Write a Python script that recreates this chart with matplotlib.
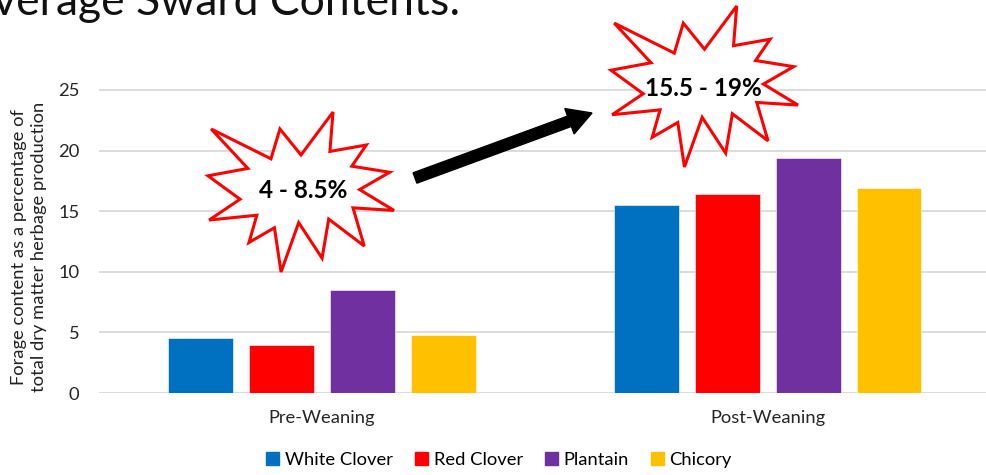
import numpy as np
import matplotlib.pyplot as plt
from matplotlib.patches import Polygon, FancyArrow, Patch
from matplotlib.transforms import Affine2D

plt.rcParams['font.family'] = ['Lato', 'DejaVu Sans']

groups = ['Pre-Weaning', 'Post-Weaning']
species = ['White Clover', 'Red Clover', 'Plantain', 'Chicory']
colors = ['#0070C0', '#FF0000', '#7030A0', '#FFC000']
values = {
    'White Clover': [4.5, 15.5],
    'Red Clover': [4.0, 16.4],
    'Plantain': [8.5, 19.4],
    'Chicory': [4.8, 16.9],
}
yticks = [0, 5, 10, 15, 20, 25]
ranges = ['4 - 8.5%', '15.5 - 19%']

W, H = 986, 475
fig = plt.figure(figsize=(W / 100, H / 100), dpi=100)
fig.patch.set_facecolor('white')

# pixel coords measured from the top-left corner
px = Affine2D().scale(1 / W, -1 / H).translate(0, 1) + fig.transFigure

ax = fig.add_axes([99 / W, (H - 393) / H, 1 - 99 / W, 303 / H * 25.2 / 25])
x = np.arange(len(groups))
step, bw = 0.1816, 0.1457
for i, (name, c) in enumerate(zip(species, colors)):
    ax.bar(x + (i - 1.5) * step, values[name], bw, color=c, label=name,
           edgecolor='white', linewidth=0.4, zorder=3)

ax.set_xlim(-0.5, 1.49)
ax.set_ylim(0, 25.2)
ax.set_yticks(yticks)
ax.set_xticks(x)
ax.set_xticklabels(groups)
ax.tick_params(length=0, labelsize=13.2, labelcolor='#262626')
ax.tick_params(axis='y', pad=14)
ax.tick_params(axis='x', pad=12)
ax.grid(axis='y', color='#D9D9D9', linewidth=1.3, zorder=0)
for s in ax.spines.values():
    s.set_visible(False)

fig.text(29, 247, 'Forage content as a percentage of\ntotal dry matter herbage production',
         transform=px, rotation=90, ha='center', va='center', ma='center',
         fontsize=13.2, color='#222222', linespacing=1.3)

fig.text(-37, 15, 'Average Sward Contents:', transform=px, fontsize=32,
         ha='left', va='baseline', color='#111111')

# explosion outline on a 21600 grid
seal = np.array([
    (10800, 5800), (14522, 0), (14155, 5325), (18380, 4457), (16702, 7315),
    (21097, 8137), (17607, 10475), (21600, 13290), (16837, 12942),
    (18145, 18095), (14020, 14457), (13247, 19737), (10532, 14935),
    (8485, 21600), (7715, 15627), (4762, 17617), (5667, 13937),
    (135, 14587), (3722, 11775), (0, 8615), (4627, 7617), (370, 2295),
    (7312, 6320), (8352, 2295)]) / 21600.0


def burst(x0, y0, w, h, label, tx, ty):
    pts = np.column_stack([x0 + seal[:, 0] * w, y0 + seal[:, 1] * h])
    fig.patches.append(Polygon(pts, closed=True, transform=px, facecolor='white',
                               edgecolor='#FF0000', linewidth=2.2, zorder=5))
    fig.text(tx, ty, label, transform=px, ha='center', va='center',
             fontsize=17.5, fontweight='bold', color='black', zorder=6)


burst(208, 112, 186, 160, ranges[0], 303, 190)
burst(611, 6, 187, 161, ranges[1], 703, 89)

fig.patches.append(FancyArrow(415, 178, 177, -65, width=11, head_width=27,
                              head_length=24, length_includes_head=True,
                              transform=px, color='black', zorder=5))

handles = [Patch(color=c, label=n) for n, c in zip(species, colors)]
fig.legend(handles=handles, loc='center', bbox_to_anchor=(499, 460),
           bbox_transform=px, ncol=4, frameon=False, fontsize=13.2,
           handlelength=0.72, handleheight=0.72, handletextpad=0.3,
           columnspacing=1.2, borderaxespad=0)

fig.savefig('out.png', dpi=100, facecolor='white')
